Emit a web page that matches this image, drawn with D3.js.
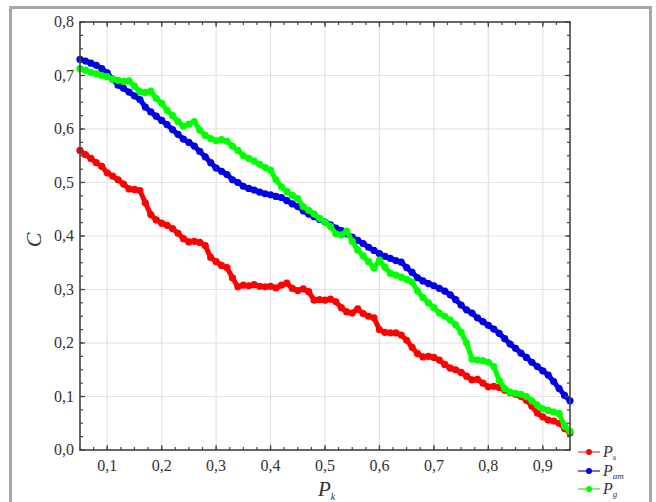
<!DOCTYPE html>
<html lang="en">
  <head>
    <meta charset="UTF-8" />
    <title>C vs Pk</title>
    <style>
      body {
        margin: 0;
        background: #fff;
      }
    </style>
  </head>
  <body>
    <div id="chart"></div>
    <script src="https://cdnjs.cloudflare.com/ajax/libs/d3/7.8.5/d3.min.js"></script>
    <script>
      // x values (Pk)
      var pk = [
        0.05, 0.06, 0.07, 0.08, 0.09, 0.1, 0.11, 0.12, 0.13, 0.14, 0.15, 0.16,
        0.17, 0.18, 0.19, 0.2, 0.21, 0.22, 0.23, 0.24, 0.25, 0.26, 0.27, 0.28,
        0.29, 0.3, 0.31, 0.32, 0.33, 0.34, 0.35, 0.36, 0.37, 0.38, 0.39, 0.4,
        0.41, 0.42, 0.43, 0.44, 0.45, 0.46, 0.47, 0.48, 0.49, 0.5, 0.51, 0.52,
        0.53, 0.54, 0.55, 0.56, 0.57, 0.58, 0.59, 0.6, 0.61, 0.62, 0.63, 0.64,
        0.65, 0.66, 0.67, 0.68, 0.69, 0.7, 0.71, 0.72, 0.73, 0.74, 0.75, 0.76,
        0.77, 0.78, 0.79, 0.8, 0.81, 0.82, 0.83, 0.84, 0.85, 0.86, 0.87, 0.88,
        0.89, 0.9, 0.91, 0.92, 0.93, 0.94, 0.95,
      ];

      var ps = [
        0.56, 0.552, 0.545, 0.537, 0.53, 0.518, 0.512, 0.505, 0.497, 0.488,
        0.487, 0.485, 0.462, 0.44, 0.43, 0.424, 0.42, 0.414, 0.405, 0.395,
        0.389, 0.39, 0.388, 0.382, 0.36, 0.352, 0.345, 0.341, 0.322, 0.305,
        0.308, 0.307, 0.309, 0.306, 0.305, 0.306, 0.303, 0.308, 0.312, 0.302,
        0.298, 0.301, 0.296, 0.28, 0.281, 0.28, 0.282, 0.277, 0.266, 0.258,
        0.256, 0.264, 0.255, 0.25, 0.247, 0.225, 0.22, 0.219, 0.219, 0.215,
        0.205, 0.192, 0.18, 0.174, 0.175, 0.173, 0.168, 0.16, 0.153, 0.15,
        0.145, 0.138, 0.131, 0.132, 0.125, 0.118, 0.119, 0.117, 0.112, 0.107,
        0.104, 0.1, 0.093, 0.082, 0.069, 0.062, 0.056, 0.054, 0.05, 0.04,
        0.032,
      ];

      var pam = [
        0.73, 0.727, 0.723, 0.719, 0.713, 0.705, 0.693, 0.682, 0.676, 0.669,
        0.662, 0.655, 0.641, 0.632, 0.624, 0.616, 0.608, 0.599, 0.59, 0.581,
        0.575, 0.568, 0.558, 0.548, 0.537, 0.527, 0.521, 0.515, 0.505, 0.5,
        0.493, 0.489, 0.486, 0.482, 0.479, 0.477, 0.474, 0.472, 0.466, 0.46,
        0.455, 0.447, 0.441, 0.436, 0.431, 0.426, 0.421, 0.415, 0.41, 0.404,
        0.398, 0.392, 0.386, 0.379, 0.373, 0.367, 0.362, 0.358, 0.354, 0.351,
        0.341, 0.332, 0.322, 0.316, 0.311, 0.307, 0.302, 0.297, 0.29, 0.281,
        0.271, 0.262, 0.256, 0.247, 0.24, 0.233, 0.226, 0.218, 0.208, 0.198,
        0.19, 0.181, 0.173, 0.164, 0.156, 0.148, 0.14, 0.128, 0.115, 0.102,
        0.092,
      ];

      var pg = [
        0.713, 0.71, 0.706, 0.703, 0.7, 0.698, 0.693, 0.691, 0.689, 0.69, 0.68,
        0.67, 0.668, 0.671, 0.657, 0.648, 0.635, 0.625, 0.614, 0.605, 0.609,
        0.614, 0.598, 0.588, 0.582, 0.578, 0.58, 0.577, 0.568, 0.56, 0.55,
        0.545, 0.54, 0.534, 0.528, 0.523, 0.505, 0.492, 0.483, 0.476, 0.47,
        0.455, 0.448, 0.441, 0.433, 0.426, 0.418, 0.404, 0.402, 0.409, 0.39,
        0.374, 0.363, 0.352, 0.34, 0.355, 0.342, 0.33, 0.327, 0.323, 0.319,
        0.314, 0.297, 0.285, 0.275, 0.266, 0.256, 0.25, 0.243, 0.234, 0.22, 0.2,
        0.17, 0.168, 0.167, 0.164, 0.156, 0.13, 0.115, 0.108, 0.106, 0.104, 0.1,
        0.092, 0.084, 0.077, 0.074, 0.071, 0.068, 0.045, 0.035,
      ];

      var seriesNames = ["s", "am", "g"];
      var seriesColors = ["#ff0000", "#0000e6", "#00ff00"];
      var legendLineColors = ["#e06060", "#4040c0", "#60e060"];
      var xTicks = [0.1, 0.2, 0.3, 0.4, 0.5, 0.6, 0.7, 0.8, 0.9];
      var yTicks = [0, 0.1, 0.2, 0.3, 0.4, 0.5, 0.6, 0.7, 0.8];

      var serif = "'Liberation Serif', 'Times New Roman', Times, 'DejaVu Serif', serif";

      var W = 656,
        H = 502;
      var margin = { top: 22, right: 86, bottom: 52, left: 80 };
      var width = W - margin.left - margin.right;
      var height = H - margin.top - margin.bottom;

      var svg = d3
        .select("#chart")
        .append("svg")
        .attr("width", W)
        .attr("height", H)
        .attr("font-family", serif);

      // outer frame
      svg
        .append("rect")
        .attr("x", 10.5)
        .attr("y", 7.5)
        .attr("width", 640)
        .attr("height", 510)
        .attr("fill", "none")
        .attr("stroke", "#a6a6a6")
        .attr("stroke-width", 3);

      var g = svg
        .append("g")
        .attr("transform", "translate(" + margin.left + "," + margin.top + ")");

      var x = d3.scaleLinear().domain([0.05, 0.95]).range([0, width]);
      var y = d3.scaleLinear().domain([0, 0.8]).range([height, 0]);

      // grid
      g.append("g")
        .selectAll("line")
        .data(xTicks)
        .enter()
        .append("line")
        .attr("x1", (d) => x(d))
        .attr("x2", (d) => x(d))
        .attr("y1", 0)
        .attr("y2", height)
        .attr("stroke", "#e2e2e2")
        .attr("stroke-width", 1.2);

      g.append("g")
        .selectAll("line")
        .data(yTicks)
        .enter()
        .append("line")
        .attr("x1", 0)
        .attr("x2", width)
        .attr("y1", (d) => y(d))
        .attr("y2", (d) => y(d))
        .attr("stroke", "#e2e2e2")
        .attr("stroke-width", 1.2);

      // series: thick line + dense markers
      var allSeries = [ps, pam, pg];
      var line = d3
        .line()
        .x((d) => x(d[0]))
        .y((d) => y(d[1]));

      allSeries.forEach(function (vals, i) {
        var pts = pk.map((p, j) => [p, vals[j]]);
        var sg = g.append("g");
        sg.append("path")
          .datum(pts)
          .attr("d", line)
          .attr("fill", "none")
          .attr("stroke", seriesColors[i])
          .attr("stroke-width", 5)
          .attr("stroke-linejoin", "round")
          .attr("stroke-linecap", "round");
        sg.selectAll("circle")
          .data(pts)
          .enter()
          .append("circle")
          .attr("cx", (d) => x(d[0]))
          .attr("cy", (d) => y(d[1]))
          .attr("r", 3.6)
          .attr("fill", seriesColors[i]);
      });

      // inward ticks on all four sides
      var minorX = d3.range(0.05, 0.951, 0.025);
      var minorY = d3.range(0, 0.801, 0.025);

      function tickLines(parent, vals, len, side) {
        var horiz = side == "bottom" || side == "top";
        parent
          .append("g")
          .selectAll("line")
          .data(vals)
          .enter()
          .append("line")
          .attr("x1", (d) => (horiz ? x(d) : side == "left" ? 0 : width))
          .attr("x2", (d) => (horiz ? x(d) : side == "left" ? len : width - len))
          .attr("y1", (d) => (!horiz ? y(d) : side == "bottom" ? height : 0))
          .attr("y2", (d) => (!horiz ? y(d) : side == "bottom" ? height - len : len))
          .attr("stroke", "#444")
          .attr("stroke-width", 1.2);
      }
      ["bottom", "top"].forEach(function (s) {
        tickLines(g, minorX, 3, s);
        tickLines(g, xTicks, 5, s);
      });
      ["left", "right"].forEach(function (s) {
        tickLines(g, minorY, 3, s);
        tickLines(g, yTicks, 5, s);
      });

      g.append("rect")
        .attr("width", width)
        .attr("height", height)
        .attr("fill", "none")
        .attr("stroke", "#444")
        .attr("stroke-width", 1.6);

      var fmt = (d) => d3.format(".1f")(d).replace(".", ",");

      g.append("g")
        .selectAll("text")
        .data(xTicks)
        .enter()
        .append("text")
        .attr("x", (d) => x(d))
        .attr("y", height + 21)
        .attr("text-anchor", "middle")
        .attr("font-family", serif)
        .attr("font-size", 16)
        .attr("fill", "#333")
        .text(fmt);

      g.append("g")
        .selectAll("text")
        .data(yTicks)
        .enter()
        .append("text")
        .attr("x", -6)
        .attr("y", (d) => y(d) + 5)
        .attr("text-anchor", "end")
        .attr("font-family", serif)
        .attr("font-size", 16)
        .attr("fill", "#333")
        .text(fmt);

      // axis titles
      svg
        .append("text")
        .attr("transform", "translate(41,240) rotate(-90)")
        .attr("text-anchor", "middle")
        .attr("font-family", serif)
        .attr("font-size", 22)
        .attr("font-style", "italic")
        .attr("fill", "#333")
        .text("C");

      var xt = svg
        .append("text")
        .attr("x", 318)
        .attr("y", 496)
        .attr("font-family", serif)
        .attr("font-style", "italic")
        .attr("fill", "#333");
      xt.append("tspan").attr("font-size", 21).text("P");
      xt.append("tspan").attr("font-size", 10).attr("dy", 4).text("k");

      // legend
      var legend = svg.append("g");
      var legY = [452, 471, 489];
      seriesNames.forEach(function (name, i) {
        legend
          .append("line")
          .attr("x1", 578)
          .attr("x2", 600)
          .attr("y1", legY[i])
          .attr("y2", legY[i])
          .attr("stroke", legendLineColors[i])
          .attr("stroke-width", 1.5);
        legend
          .append("circle")
          .attr("cx", 589)
          .attr("cy", legY[i])
          .attr("r", 3)
          .attr("fill", seriesColors[i]);
        var t = legend
          .append("text")
          .attr("x", 603)
          .attr("y", legY[i] + 5)
          .attr("font-family", serif)
          .attr("font-style", "italic")
          .attr("fill", "#333");
        t.append("tspan").attr("font-size", 16).text("P");
        t.append("tspan").attr("font-size", 9).attr("dy", 3).text(name);
      });
    </script>
  </body>
</html>
